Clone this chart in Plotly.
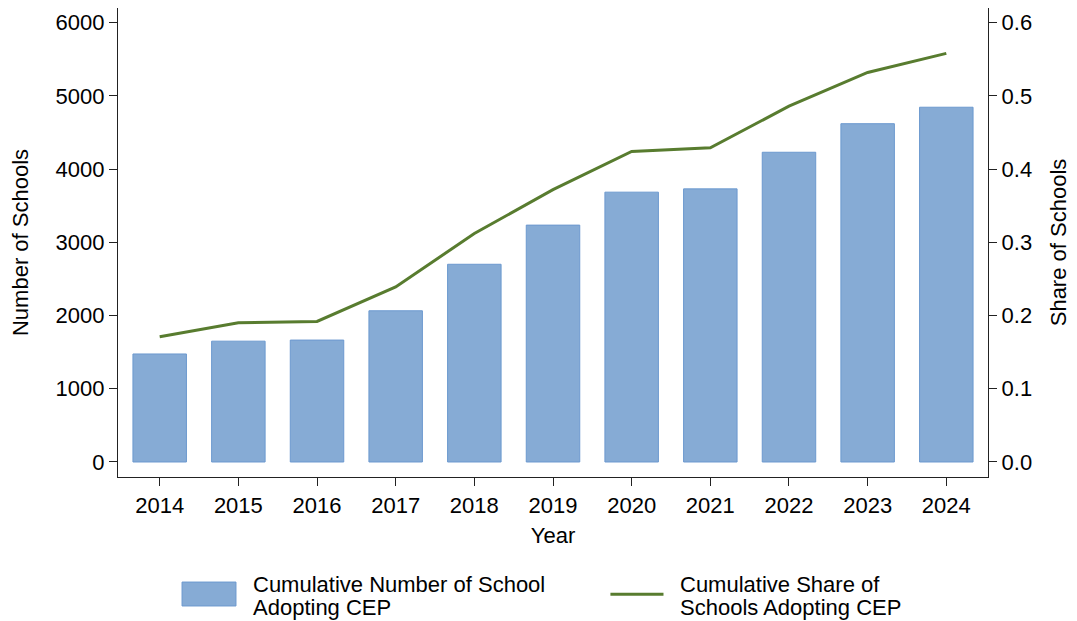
import plotly.graph_objects as go

# CEP adoption, 2014-2024
years = [2014, 2015, 2016, 2017, 2018, 2019, 2020, 2021, 2022, 2023, 2024]
schools = [1475, 1650, 1665, 2065, 2700, 3235, 3685, 3730, 4230, 4620, 4845]
share = [0.171, 0.190, 0.192, 0.239, 0.312, 0.372, 0.424, 0.429, 0.486, 0.532, 0.558]

left_ticks = [0, 1000, 2000, 3000, 4000, 5000, 6000]
right_ticks = [0.0, 0.1, 0.2, 0.3, 0.4, 0.5, 0.6]

bar_color = '#86ABD5'
bar_edge = '#6C99CF'
line_color = '#587C2F'
font_family = 'Liberation Sans, Arial, Helvetica, sans-serif'

fig = go.Figure()

fig.add_trace(go.Bar(
    x=years,
    y=schools,
    width=0.68,
    marker=dict(color=bar_color, line=dict(color=bar_edge, width=1)),
    name='Cumulative Number of School Adopting CEP',
    showlegend=False
))

fig.add_trace(go.Scatter(
    x=years,
    y=share,
    mode='lines',
    line=dict(color=line_color, width=3),
    yaxis='y2',
    name='Cumulative Share of Schools Adopting CEP',
    showlegend=False
))

axis_common = dict(
    showline=True,
    linecolor='#222222',
    linewidth=1.3,
    ticks='outside',
    ticklen=8,
    tickwidth=1.3,
    tickcolor='#222222',
    showgrid=False,
    zeroline=False,
    automargin=False,
    tickfont=dict(size=22, color='black'),
)

# page body has an 8px margin, so the figure is sized to the visible area
fig.update_layout(
    width=1069,
    height=613,
    plot_bgcolor='white',
    paper_bgcolor='white',
    font=dict(family=font_family, size=22, color='black'),
    margin=dict(l=110, r=89, t=0, b=144),
    xaxis=dict(
        range=[2013.47, 2024.53],
        tickmode='array',
        tickvals=years,
        ticktext=[str(y) for y in years],
        title=dict(text='Year', font=dict(size=22), standoff=11),
        **axis_common
    ),
    yaxis=dict(
        range=[-205, 6200],
        tickmode='array',
        tickvals=left_ticks,
        title=dict(text='Number of Schools', font=dict(size=22), standoff=20),
        **axis_common
    ),
    yaxis2=dict(
        range=[-0.0205, 0.62],
        overlaying='y',
        side='right',
        tickmode='array',
        tickvals=right_ticks,
        tickformat='.1f',
        title=dict(text='Share of Schools', font=dict(size=22), standoff=19),
        **axis_common
    ),
)

# Legend drawn below the plot (large swatches as in the reference)
legend_rows = [
    (0.1525, ['Cumulative Number of School', 'Adopting CEP']),
    (0.6437, ['Cumulative Share of', 'Schools Adopting CEP']),
]
fig.add_shape(type='rect', xref='paper', yref='paper',
              x0=0.0736, x1=0.1356, y0=-0.275, y1=-0.224,
              fillcolor=bar_color, line=dict(color=bar_edge, width=1))
fig.add_shape(type='line', xref='paper', yref='paper',
              x0=0.566, x1=0.627, y0=-0.250, y1=-0.250,
              line=dict(color=line_color, width=3))
for x_pos, lines in legend_rows:
    for y_pos, txt in zip([-0.229, -0.278], lines):
        fig.add_annotation(xref='paper', yref='paper', x=x_pos, y=y_pos,
                           xanchor='left', yanchor='middle', showarrow=False,
                           text=txt, font=dict(size=22))

fig.write_html('out.html')
